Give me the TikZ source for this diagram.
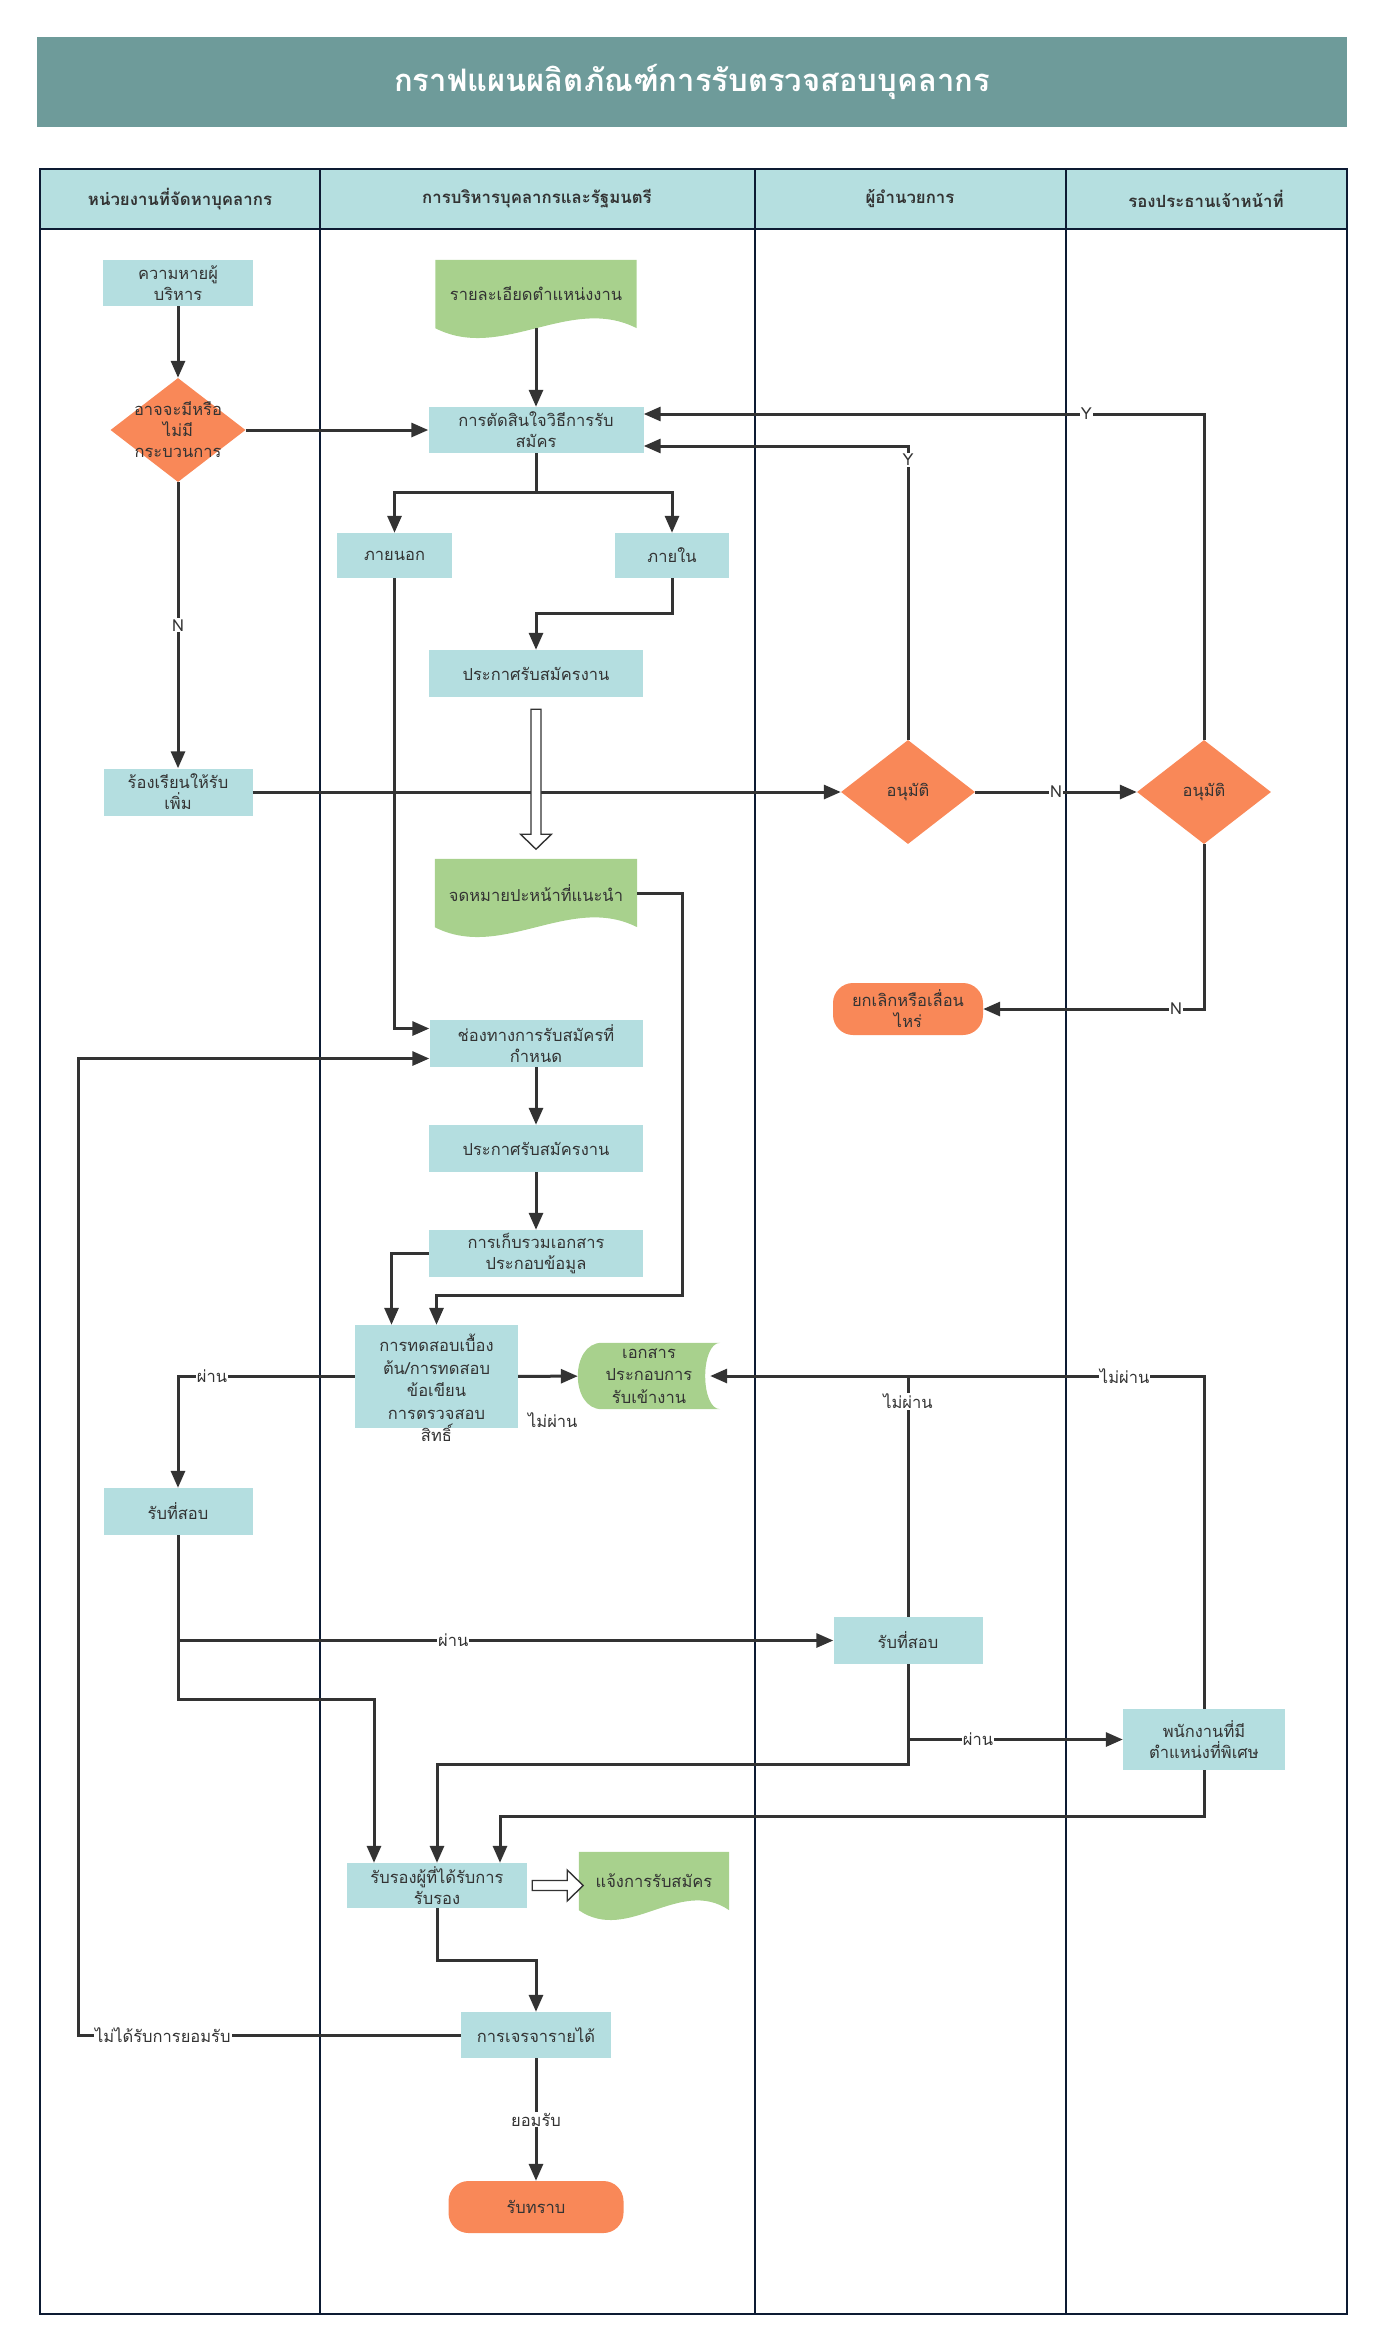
\documentclass[tikz,border=0pt]{standalone}
\usepackage{fontspec}
\setmainfont[Script=Thai]{Loma}
\usetikzlibrary{arrows.meta,shapes.geometric,calc,backgrounds}
\definecolor{titlebg}{HTML}{6E9B9A}
\definecolor{headbg}{HTML}{B5DFE0}
\definecolor{boxbg}{HTML}{B4DEE0}
\definecolor{decbg}{HTML}{F98858}
\definecolor{docbg}{HTML}{A8D18D}
\definecolor{linec}{HTML}{333333}
\definecolor{lanec}{HTML}{0D1B33}
\tikzset{
  box/.style={rectangle, fill=boxbg, text=linec, align=center, inner sep=1pt,
    font=\fontsize{16.5}{21}\selectfont},
  sz/.style 2 args={minimum width=#1pt, minimum height=#2pt},
  decision/.style={diamond, fill=decbg, text=linec, inner sep=0pt,
    font=\fontsize{16.5}{21}\selectfont},
  term/.style={rectangle, rounded corners=20pt, fill=decbg, text=linec, align=center,
    inner sep=1pt, font=\fontsize{16.5}{21}\selectfont},
  doc/.style={rectangle, text=linec, align=center, inner sep=1pt,
    font=\fontsize{16.5}{21}\selectfont},
  txt/.style={text=linec, align=center, font=\fontsize{16.5}{21}\selectfont},
  head/.style={text=linec, font=\bfseries\fontsize{16.8}{20}\selectfont},
  lbl/.style={fill=white, inner sep=1pt, text=linec, font=\fontsize{16.5}{18}\selectfont},
  conn/.style={draw=linec, line width=3pt, -{Triangle[length=17pt,width=14pt]}},
  hollow/.style={draw=linec, fill=white, line width=1.4pt},
  lane/.style={draw=lanec, line width=1.8pt},
}
\begin{document}
\begin{tikzpicture}[x=1pt, y=-1pt]
\useasboundingbox (0,0) rectangle (1382,2350);
% title and lanes
\fill[titlebg] (37,37) rectangle (1347,127);
\node[text=white, font=\bfseries\fontsize{31}{36}\selectfont] (title) at (692,82) {กราฟแผนผลิตภัณฑ์การรับตรวจสอบบุคลากร};
\fill[headbg] (40,169) rectangle (1347,229);
\draw[lane] (40,169) rectangle (1347,2314);
\draw[lane] (40,229) -- (1347,229);
\foreach \x in {320,755,1066}
  \draw[lane] (\x,169) -- (\x,2314);
\node[head] (h1) at (180,199) {หน่วยงานที่จัดหาบุคลากร};
\node[head] (h2) at (537,199) {การบริหารบุคลากรและรัฐมนตรี};
\node[head] (h3) at (910,199) {ผู้อำนวยการ};
\node[head] (h4) at (1206,199) {รองประธานเจ้าหน้าที่};

% nodes
\node[box, sz={150}{46}] (loss) at (178,283) {ความหายผู้\\บริหาร};
\node[decision, sz={135}{104}] (proc) at (178,430) {};
\node[txt] (proctext) at (proc) {อาจจะมีหรือ\\ไม่มี\\กระบวนการ};
\node[doc, sz={201}{68}] (detail) at (536,294) {รายละเอียดตำแหน่งงาน};
\node[box, sz={215}{46}] (decide) at (536,430) {การตัดสินใจวิธีการรับ\\สมัคร};
\node[box, sz={115}{45}] (outside) at (394.5,555.5) {ภายนอก};
\node[box, sz={114}{45}] (inside) at (672,555.5) {ภายใน};
\node[box, sz={214}{47}] (ann1) at (536,673.5) {ประกาศรับสมัครงาน};
\node[doc, sz={202}{68}] (letter) at (536,893) {จดหมายปะหน้าที่แนะนำ};
\node[box, sz={149}{47}] (appeal) at (178,792) {ร้องเรียนให้รับ\\เพิ่ม};
\node[decision, sz={134}{104}] (dirok) at (908,792) {อนุมัติ};
\node[decision, sz={134}{104}] (vpok) at (1204,792) {อนุมัติ};
\node[term, sz={150}{52}] (cancel) at (908,1009) {ยกเลิกหรือเลื่อน\\ไหร่};
\node[box, sz={213}{47}] (channel) at (536,1043.5) {ช่องทางการรับสมัครที่\\กำหนด};
\node[box, sz={214}{47}] (ann2) at (536,1148.5) {ประกาศรับสมัครงาน};
\node[box, sz={214}{47}] (collect) at (536,1253.5) {การเก็บรวมเอกสาร\\ประกอบข้อมูล};
\node[box, sz={163}{103}] (exam) at (436.5,1376.5) {};
\node[txt, font=\fontsize{16.5}{22.5}\selectfont] (examtext) at (436.5,1388) {การทดสอบเบื้อง\\ต้น/การทดสอบ\\ข้อเขียน\\การตรวจสอบ\\สิทธิ์};
\node[doc, sz={142}{66}, font=\fontsize{16.5}{22.5}\selectfont] (files) at (649,1376) {เอกสาร\\ประกอบการ\\รับเข้างาน};
\node[box, sz={149}{47}] (rtest1) at (178,1511.5) {รับที่สอบ};
\node[box, sz={149}{47}] (drtest) at (908,1640.5) {รับที่สอบ};
\node[box, sz={162}{61}] (staff) at (1204,1739.5) {พนักงานที่มี\\ตำแหน่งที่พิเศษ};
\node[box, sz={180}{45}] (certify) at (437,1885.5) {รับรองผู้ที่ได้รับการ\\รับรอง};
\node[doc, sz={150}{58}] (notify) at (654,1881) {แจ้งการรับสมัคร};
\node[box, sz={150}{46}] (negot) at (536,2035) {การเจรจารายได้};
\node[term, sz={175}{52}] (ack) at (536,2207) {รับทราบ};

% document shapes
\begin{scope}[on background layer]
\foreach \d in {detail,letter,notify}
  \fill[docbg] (\d.north west) -- (\d.north east) -- (\d.south east)
    .. controls ($(\d.south east)!0.33!(\d.south west)+(0,-34)$) and ($(\d.south east)!0.67!(\d.south west)+(0,34)$) .. (\d.south west) -- cycle;
\fill[docbg] ($(files.north west)+(24,0)$) -- (files.north east)
  .. controls ($(files.north east)+(-20,0)$) and ($(files.south east)+(-20,0)$) .. (files.south east)
  -- ($(files.south west)+(24,0)$)
  .. controls ($(files.south west)+(-8,0)$) and ($(files.north west)+(-8,0)$) .. ($(files.north west)+(24,0)$) -- cycle;
\end{scope}

% connectors
\draw[conn] (loss) -- (proc);
\draw[conn] (proc) -- (decide);
\draw[conn] (detail) -- (decide);
\draw[conn] (proc) -- node[lbl]{N} (appeal);
\coordinate (split) at (536,492);
\draw[conn,-] (decide) -- (split);
\draw[conn] (split) -| (outside);
\draw[conn] (split) -| (inside);
\draw[conn] (inside.south) -- ++(0,35) -| (ann1.north);
\draw[conn] (outside.south) |- ($(channel.west)+(0,-15)$);
\draw[conn] (appeal) -- (dirok);
\draw[conn] (dirok) -- node[lbl]{N} (vpok);
\draw[conn] (dirok.north) |- node[lbl,pos=0.476]{Y} ($(decide.east)+(0,16)$);
\draw[conn] (vpok.north) |- node[lbl,pos=0.605]{Y} ($(decide.east)+(0,-16)$);
\draw[conn] (vpok.south) |- node[lbl,pos=0.563]{N} (cancel);
\draw[conn] (letter.east) -- ++(45,0) |- ($(exam.north)+(0,-29)$) -- (exam.north);
\draw[conn] (channel) -- (ann2);
\draw[conn] (ann2) -- (collect);
\draw[conn] (collect.west) -| ($(exam.north)+(-45,0)$);
\draw[conn] (exam) -- node[lbl,pos=0.58,yshift=-44pt]{ไม่ผ่าน} (files);
\draw[conn] (exam.west) -| node[lbl,pos=0.404]{ผ่าน} (rtest1);
\draw[conn] (rtest1.south) |- node[lbl,pos=0.71]{ผ่าน} (drtest);
\draw[conn] (rtest1.south) -- ++(0,164) -| ($(certify.north)+(-63,0)$);
\draw[conn] (drtest.north) |- node[lbl,pos=0.448]{ไม่ผ่าน} ($(files.east)+(-10,0)$);
\draw[conn,-] (staff.north) |- node[lbl,pos=0.634]{ไม่ผ่าน} (drtest.north |- files.east);
\draw[conn] (drtest.south) |- node[lbl,pos=0.663]{ผ่าน} (staff);
\draw[conn] (drtest.south) -- ++(0,100) -| (certify.north);
\draw[conn] (staff.south) -- ++(0,46) -| ($(certify.north)+(63,0)$);
\draw[conn] (certify.south) -- ++(0,52) -| (negot.north);
\draw[conn] (negot.west) -- node[lbl,pos=0.78]{ไม่ได้รับการยอมรับ} ++(-382,0) |- ($(channel.west)+(0,15)$);
\draw[conn] (negot) -- node[lbl]{ยอมรับ} (ack);

% hollow arrows
\draw[hollow] ($(ann1.south)+(-5,12)$) -- ++(0,125) -- ++(-10.5,0) -- ++(15.5,15)
  -- ++(15.5,-15) -- ++(-10.5,0) -- ++(0,-125) -- cycle;
\draw[hollow] ($(certify.east)+(5,-5)$) -- ++(35,0) -- ++(0,-10.5) -- ++(16,15.5)
  -- ++(-16,15.5) -- ++(0,-10.5) -- ++(-35,0) -- cycle;
\end{tikzpicture}
\end{document}
